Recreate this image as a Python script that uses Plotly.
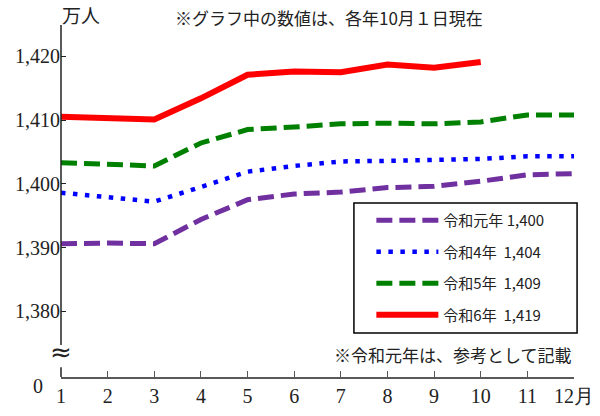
import plotly.graph_objects as go

months = list(range(1, 13))
month_labels = ["1", "2", "3", "4", "5", "6", "7", "8", "9", "10", "11", "12月"]

series_names = ["令和元年 1,400", "令和4年  1,404", "令和5年  1,409", "令和6年  1,419"]
r1_values = [1390.6, 1390.7, 1390.6, 1394.4, 1397.5, 1398.4, 1398.7, 1399.4, 1399.6, 1400.4, 1401.4, 1401.6]
r4_values = [1398.6, 1397.9, 1397.2, 1399.5, 1401.9, 1402.8, 1403.5, 1403.6, 1403.7, 1403.9, 1404.3, 1404.3]
r5_values = [1403.3, 1403.1, 1402.8, 1406.4, 1408.5, 1408.9, 1409.4, 1409.5, 1409.4, 1409.7, 1410.8, 1410.8]
r6_values = [1410.5, 1410.3, 1410.1, 1413.4, 1417.1, 1417.6, 1417.5, 1418.7, 1418.2, 1419.1]

y_ticks = [1380, 1390, 1400, 1410, 1420]
y_ticktext = ["1,380", "1,390", "1,400", "1,410", "1,420"]
y_range = [1369.7, 1424.9]

SERIF = "'Liberation Serif', 'Times New Roman', serif"
JP = "Noto Sans CJK JP"

fig = go.Figure()
styles = [
    dict(color="#7030A0", width=5, dash="16px,7px"),
    dict(color="#0000FF", width=4.5, dash="4.5px,7.5px"),
    dict(color="#008000", width=5, dash="16px,7px"),
    dict(color="#FF0000", width=6, dash="solid"),
]
all_vals = [r1_values, r4_values, r5_values, r6_values]
for i, (name, vals, st) in enumerate(zip(series_names, all_vals, styles)):
    fig.add_trace(go.Scatter(
        x=months[:len(vals)], y=vals, mode="lines", name=name,
        line=st, legendgroup=f"g{i}",
    ))

fig.update_layout(
    width=600, height=416,
    margin=dict(l=61, r=26, t=25, b=39, autoexpand=False),
    plot_bgcolor="white", paper_bgcolor="white",
    font=dict(family=SERIF, size=20, color="#222"),
    legend=dict(
        x=0.605, y=0.4915, xanchor="left", yanchor="top",
        bgcolor="rgba(0,0,0,0)", borderwidth=0,
        font=dict(family=JP, size=15, color="#222"),
        traceorder="grouped", tracegroupgap=9, itemwidth=62,
    ),
    xaxis=dict(
        range=[1, 12], tickvals=months, ticktext=month_labels,
        showline=True, linecolor="#595959", linewidth=1.5,
        ticks="inside", ticklen=6, tickcolor="#595959", tickwidth=1.2,
        showgrid=False, zeroline=False, tickfont=dict(family=SERIF, size=20),
        automargin=False,
    ),
    yaxis=dict(
        range=y_range, tickvals=y_ticks, ticktext=y_ticktext,
        showline=False, ticks="inside", ticklen=5, tickcolor="#222",
        showgrid=False, zeroline=False, tickfont=dict(family=SERIF, size=20),
        automargin=False,
    ),
)

# legend frame
fig.add_shape(type="rect", xref="paper", yref="paper", x0=0.571, x1=1.006, y0=0.125, y1=0.494,
              line=dict(color="black", width=1.5), layer="above")

# broken y axis line
fig.add_shape(type="line", xref="paper", yref="paper", x0=0, x1=0, y0=0.091, y1=1,
              line=dict(color="#222", width=1.5))
fig.add_shape(type="line", xref="paper", yref="paper", x0=0, x1=0, y0=0, y1=0.028,
              line=dict(color="#222", width=1.5))
fig.add_annotation(text="≈", xref="paper", yref="paper", x=0.0, y=0.072, showarrow=False,
                   font=dict(family="DejaVu Sans", size=26, color="#222"), xanchor="center", yanchor="middle")

fig.add_annotation(text="0", xref="paper", yref="paper", x=-0.045, y=-0.026, showarrow=False,
                   font=dict(family=SERIF, size=20, color="#222"), xanchor="center", yanchor="middle")
fig.add_annotation(text="万人", xref="paper", yref="paper", x=-0.002, y=1.031, showarrow=False,
                   font=dict(family=JP, size=19, color="#222"), xanchor="left", yanchor="middle")
fig.add_annotation(text="※グラフ中の数値は、各年10月１日現在", xref="paper", yref="paper",
                   x=0.523, y=1.02, showarrow=False,
                   font=dict(family=JP, size=17, color="#222"), xanchor="center", yanchor="middle")
fig.add_annotation(text="※令和元年は、参考として記載", xref="paper", yref="paper",
                   x=1.0, y=0.065, showarrow=False,
                   font=dict(family=JP, size=17, color="#222"), xanchor="right", yanchor="middle")

fig.write_html("out.html", config={"displayModeBar": False},
               post_script="document.body.style.margin='0';")
